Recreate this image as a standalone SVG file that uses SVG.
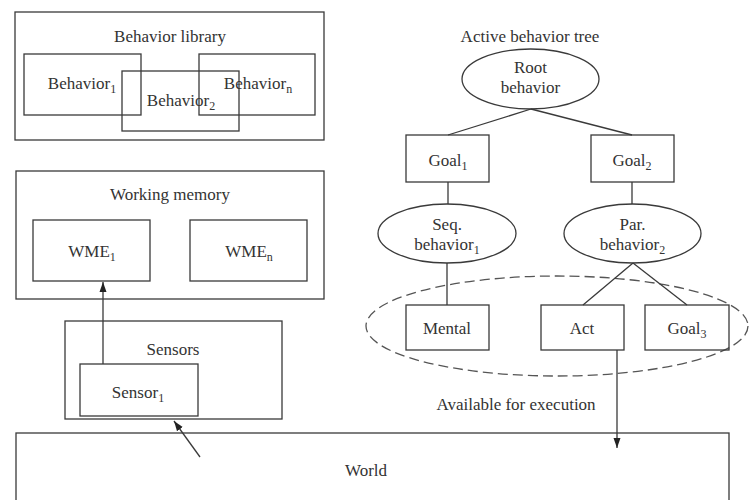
<svg xmlns="http://www.w3.org/2000/svg" width="749" height="500" viewBox="0 0 749 500">
<defs>
<style>
.b{fill:none;stroke:#3a3a3a;stroke-width:1.3}
.t{font-family:"Liberation Serif","Times New Roman",serif;font-size:17px;fill:#333;text-anchor:middle}
.s{font-size:12px}
.c{fill:none;stroke:#3a3a3a;stroke-width:1.3}
.d{fill:none;stroke:#555;stroke-width:1.3;stroke-dasharray:10 5}
</style>
<marker id="ah" viewBox="0 0 10 10" refX="10" refY="5" markerWidth="10" markerHeight="10" markerUnits="userSpaceOnUse" orient="auto">
<path d="M0,1.5 L10,5 L0,8.5 Z" fill="#222"/>
</marker>
</defs>
<rect width="749" height="500" fill="#fff"/>

<g id="behavior-library">
<rect class="b" x="15" y="12" width="309" height="128"/>
<text class="t" x="170" y="42">Behavior library</text>
</g>
<g id="behavior1">
<rect class="b" x="24" y="54" width="117" height="61"/>
<text class="t" x="82" y="89">Behavior<tspan class="s" dy="4">1</tspan></text>
</g>
<g id="behavior2">
<rect class="b" x="122" y="71" width="117" height="60"/>
<text class="t" x="181" y="106">Behavior<tspan class="s" dy="4">2</tspan></text>
</g>
<g id="behaviorn">
<rect class="b" x="199" y="54" width="116" height="61"/>
<text class="t" x="258" y="89">Behavior<tspan class="s" dy="4">n</tspan></text>
</g>

<g id="working-memory">
<rect class="b" x="16" y="171" width="308" height="128"/>
<text class="t" x="170" y="200">Working memory</text>
</g>
<g id="wme1">
<rect class="b" x="33" y="220" width="117" height="61"/>
<text class="t" x="92" y="257">WME<tspan class="s" dy="4">1</tspan></text>
</g>
<g id="wmen">
<rect class="b" x="190" y="220" width="117" height="61"/>
<text class="t" x="249" y="257">WME<tspan class="s" dy="4">n</tspan></text>
</g>

<g id="sensors">
<rect class="b" x="65" y="321" width="217" height="98"/>
<text class="t" x="173" y="355">Sensors</text>
</g>
<g id="sensor1">
<rect class="b" x="80" y="364" width="118" height="52"/>
<text class="t" x="138" y="398">Sensor<tspan class="s" dy="4">1</tspan></text>
</g>

<g id="world">
<rect class="b" x="16" y="433" width="713" height="80"/>
<text class="t" x="366" y="476">World</text>
</g>

<g id="tree-title">
<text class="t" x="530" y="42">Active behavior tree</text>
</g>
<g id="root-behavior">
<ellipse class="b" cx="530.5" cy="79" rx="68.5" ry="30"/>
<text class="t" x="530.5" y="73">Root</text>
<text class="t" x="530.5" y="93">behavior</text>
</g>
<g id="goal1">
<rect class="b" x="406" y="135" width="83" height="47"/>
<text class="t" x="448" y="166">Goal<tspan class="s" dy="4">1</tspan></text>
</g>
<g id="goal2">
<rect class="b" x="591" y="135" width="83" height="47"/>
<text class="t" x="632" y="166">Goal<tspan class="s" dy="4">2</tspan></text>
</g>
<g id="seq-behavior1">
<ellipse class="b" cx="447" cy="233.5" rx="69" ry="29.5"/>
<text class="t" x="447" y="230">Seq.</text>
<text class="t" x="447" y="250">behavior<tspan class="s" dy="4">1</tspan></text>
</g>
<g id="par-behavior2">
<ellipse class="b" cx="632.5" cy="233.5" rx="68.5" ry="29.5"/>
<text class="t" x="632.5" y="230">Par.</text>
<text class="t" x="632.5" y="250">behavior<tspan class="s" dy="4">2</tspan></text>
</g>
<g id="available-for-execution">
<ellipse class="d" cx="557" cy="326" rx="191" ry="50"/>
<text class="t" x="516" y="410">Available for execution</text>
</g>
<g id="mental">
<rect class="b" x="406" y="305" width="83" height="45"/>
<text class="t" x="447" y="334">Mental</text>
</g>
<g id="act">
<rect class="b" x="541" y="305" width="83" height="45"/>
<text class="t" x="582" y="334">Act</text>
</g>
<g id="goal3">
<rect class="b" x="645" y="305" width="84" height="45"/>
<text class="t" x="687" y="334">Goal<tspan class="s" dy="4">3</tspan></text>
</g>

<g id="connectors">
<line class="c" x1="531" y1="109" x2="448" y2="135"/>
<line class="c" x1="531" y1="109" x2="632" y2="135"/>
<line class="c" x1="448" y1="182" x2="448" y2="204"/>
<line class="c" x1="632" y1="182" x2="632" y2="204"/>
<line class="c" x1="447" y1="263" x2="447" y2="305"/>
<line class="c" x1="633" y1="263" x2="583" y2="305"/>
<line class="c" x1="633" y1="263" x2="687" y2="305"/>
<line class="c" x1="617" y1="350" x2="617" y2="448" marker-end="url(#ah)"/>
<line class="c" x1="103" y1="364" x2="103" y2="282" marker-end="url(#ah)"/>
<line class="c" x1="200" y1="457" x2="174" y2="421" marker-end="url(#ah)"/>
</g>
</svg>
